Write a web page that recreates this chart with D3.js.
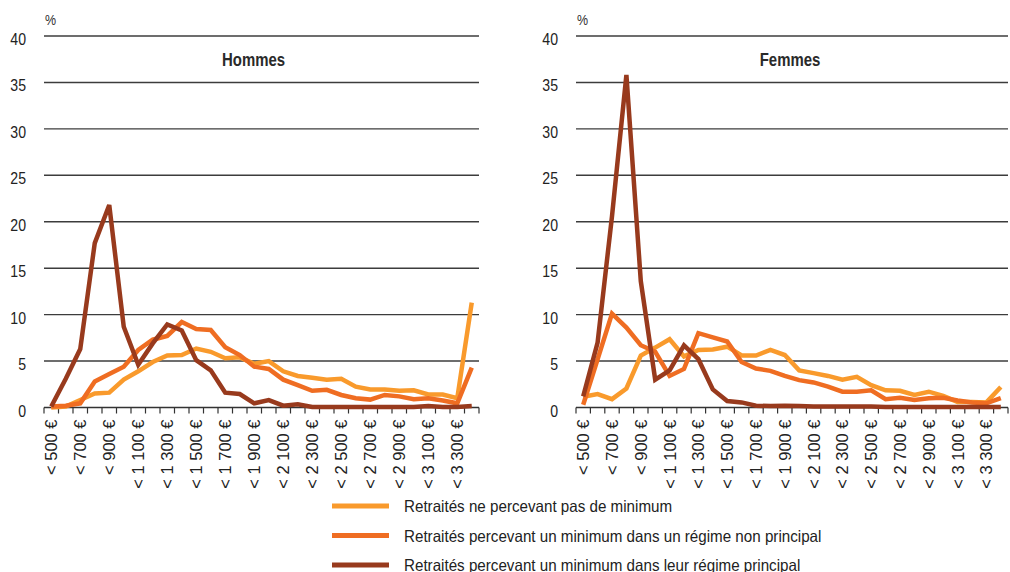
<!DOCTYPE html>
<html>
<head>
<meta charset="utf-8">
<script src="https://cdn.jsdelivr.net/npm/d3@7"></script>
<style>
  body { margin: 0; background: #fff; }
  svg { display: block; }
</style>
</head>
<body>
<div id="chartContainer"></div>
<script>
// tranches de pension (une étiquette sur deux est affichée)
const categories = [
  "< 500 €", "< 600 €", "< 700 €", "< 800 €", "< 900 €", "< 1 000 €",
  "< 1 100 €", "< 1 200 €", "< 1 300 €", "< 1 400 €", "< 1 500 €", "< 1 600 €",
  "< 1 700 €", "< 1 800 €", "< 1 900 €", "< 2 000 €", "< 2 100 €", "< 2 200 €",
  "< 2 300 €", "< 2 400 €", "< 2 500 €", "< 2 600 €", "< 2 700 €", "< 2 800 €",
  "< 2 900 €", "< 3 000 €", "< 3 100 €", "< 3 200 €", "< 3 300 €", "≥ 3 300 €"
];
const yTicks = [0, 5, 10, 15, 20, 25, 30, 35, 40];

const seriesNames = [
  "Retraités ne percevant pas de minimum",
  "Retraités percevant un minimum dans un régime non principal",
  "Retraités percevant un minimum dans leur régime principal"
];
const seriesColors = ["#f99a2c", "#ef6d22", "#983a1d"];

// Hommes (%)
const hommesSansMin = [0, 0.1, 0.8, 1.5, 1.6, 3.0, 3.9, 4.9, 5.6, 5.65, 6.35, 6.0, 5.3, 5.4, 4.7,
  5.0, 3.9, 3.4, 3.2, 3.0, 3.1, 2.25, 1.95, 1.95, 1.8, 1.85, 1.4, 1.4, 1.0, 11.3];
const hommesNonPrincipal = [0.1, 0.2, 0.45, 2.8, 3.6, 4.4, 6.2, 7.3, 7.7, 9.2, 8.45, 8.35, 6.5, 5.65, 4.4,
  4.15, 3.0, 2.4, 1.8, 1.9, 1.35, 1.0, 0.85, 1.35, 1.2, 0.9, 1.0, 0.75, 0.45, 4.3];
const hommesPrincipal = [0.1, 3.1, 6.3, 17.7, 21.8, 8.7, 4.6, 6.9, 8.95, 8.3, 5.1, 4.0, 1.6, 1.45, 0.45,
  0.8, 0.2, 0.35, 0.05, 0.05, 0.05, 0.05, 0.05, 0.05, 0.05, 0.05, 0.15, 0.05, 0.05, 0.15];

// Femmes (%)
const femmesSansMin = [1.15, 1.45, 0.9, 2.05, 5.6, 6.45, 7.35, 5.5, 6.2, 6.25, 6.55, 5.6, 5.6, 6.2, 5.65,
  4.0, 3.7, 3.4, 3.0, 3.3, 2.4, 1.85, 1.8, 1.35, 1.7, 1.25, 0.6, 0.6, 0.55, 2.2];
const femmesNonPrincipal = [0.3, 5.2, 10.1, 8.6, 6.7, 6.0, 3.4, 4.15, 8.0, 7.55, 7.1, 4.9, 4.2, 3.95, 3.4,
  2.95, 2.7, 2.25, 1.7, 1.7, 1.85, 0.9, 1.05, 0.8, 1.0, 1.05, 0.75, 0.55, 0.45, 1.0];
const femmesPrincipal = [1.2, 7.0, 20.6, 35.8, 13.6, 3.0, 4.0, 6.7, 5.2, 1.95, 0.7, 0.55, 0.2, 0.15, 0.2,
  0.15, 0.1, 0.1, 0.1, 0.1, 0.1, 0.05, 0.05, 0.05, 0.05, 0.05, 0.05, 0.05, 0.05, 0.05];

const panels = [
  { title: "Hommes", left: 44, right: 479, titleShift: -8, series: [hommesSansMin, hommesNonPrincipal, hommesPrincipal] },
  { title: "Femmes", left: 576, right: 1008, titleShift: -2, series: [femmesSansMin, femmesNonPrincipal, femmesPrincipal] }
];

const width = 1010;
const height = 572;
const marginTop = 36;
const plotBottom = 407.5;
const squeeze = 0.83; // le texte d'origine est étroit
const font = "'Liberation Sans', Arial, sans-serif";

const svg = d3.create("svg")
  .attr("width", width)
  .attr("height", height)
  .attr("viewBox", [0, 0, width, height])
  .style("font-family", font);

document.getElementById("chartContainer").appendChild(svg.node());

const y = d3.scaleLinear()
  .domain([0, 40])
  .range([plotBottom, marginTop]);

panels.forEach(p => {
  const x = d3.scaleBand()
    .domain(categories)
    .range([p.left, p.right]);

  const g = svg.append("g");

  // grille horizontale
  g.append("g")
    .selectAll("line")
    .data(yTicks.filter(d => d > 0))
    .join("line")
    .attr("x1", p.left)
    .attr("x2", p.right)
    .attr("y1", d => y(d))
    .attr("y2", d => y(d))
    .attr("stroke", "#3c3c3c")
    .attr("stroke-width", 1.4);

  // étiquettes de l'axe des ordonnées
  g.append("g")
    .selectAll("text")
    .data(yTicks)
    .join("text")
    .attr("transform", d => `translate(${p.left - 18},${y(d) + 9}) scale(${squeeze},1)`)
    .attr("text-anchor", "end")
    .style("font-size", "17px")
    .style("fill", "#222")
    .text(d => d);

  g.append("text")
    .attr("transform", `translate(${p.left + 1},25) scale(${squeeze},1)`)
    .style("font-size", "15px")
    .style("fill", "#333")
    .text("%");

  g.append("text")
    .attr("transform", `translate(${(p.left + p.right) / 2 + p.titleShift},66) scale(${squeeze},1)`)
    .attr("text-anchor", "middle")
    .style("font-weight", "bold")
    .style("font-size", "18px")
    .style("fill", "#2a2a2a")
    .text(p.title);

  // axe des abscisses
  g.append("line")
    .attr("x1", p.left)
    .attr("x2", p.right)
    .attr("y1", y(0))
    .attr("y2", y(0))
    .attr("stroke", "#333")
    .attr("stroke-width", 1.5);

  g.append("g")
    .selectAll("line")
    .data(categories.map(c => x(c)).concat([p.right]))
    .join("line")
    .attr("x1", d => d)
    .attr("x2", d => d)
    .attr("y1", y(0))
    .attr("y2", y(0) + 6)
    .attr("stroke", "#333")
    .attr("stroke-width", 1.2);

  g.append("g")
    .attr("transform", `translate(0,${y(0)})`)
    .call(d3.axisBottom(x).tickValues(categories.filter((c, i) => i % 2 === 0)).tickSize(0))
    .call(a => a.select(".domain").remove())
    .selectAll("text")
    .attr("transform", "rotate(-90)")
    .attr("text-anchor", "end")
    .attr("x", -12)
    .attr("y", 0)
    .attr("dy", "0.36em")
    .style("font-family", font)
    .style("font-size", "16.5px")
    .style("fill", "#222");

  const line = d3.line()
    .x((d, i) => x(categories[i]) + x.bandwidth() / 2)
    .y(d => y(d));

  g.append("g")
    .selectAll("path")
    .data(p.series)
    .join("path")
    .attr("fill", "none")
    .attr("stroke", (d, i) => seriesColors[i])
    .attr("stroke-width", 4.5)
    .attr("stroke-linejoin", "miter")
    .attr("d", line);
});

// légende
const legend = svg.append("g")
  .selectAll("g")
  .data(seriesNames)
  .join("g")
  .attr("transform", (d, i) => `translate(332,${506 + i * 29.5})`);

legend.append("line")
  .attr("x1", 0)
  .attr("x2", 57)
  .attr("stroke", (d, i) => seriesColors[i])
  .attr("stroke-width", 5);

legend.append("text")
  .attr("transform", `translate(72,6) scale(0.92,1)`)
  .style("font-size", "16.5px")
  .style("fill", "#222")
  .text(d => d);
</script>
</body>
</html>
